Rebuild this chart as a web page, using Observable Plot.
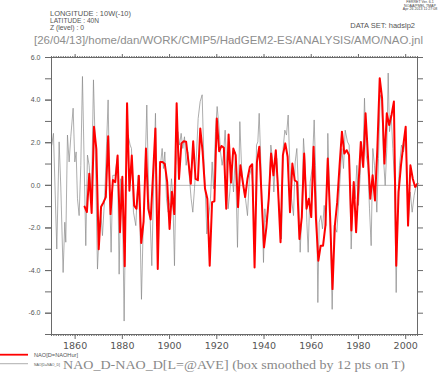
<!DOCTYPE html>
<html><head><meta charset="utf-8">
<script src="https://cdn.jsdelivr.net/npm/d3@7"></script>
<script src="https://cdn.jsdelivr.net/npm/@observablehq/plot@0.6"></script>
<style>
html,body{margin:0;padding:0;background:#fff;}
#chart{position:relative;width:440px;height:372px;overflow:hidden;}
svg{display:block}
</style></head><body><div id="chart"></div>
<script>
// ---------- data ----------
const xDomain = [1850, 2005];
const yDomain = [-7, 6];
const xTickYears = [1860, 1880, 1900, 1920, 1940, 1960, 1980, 2000];
const yTickValues = [-6, -4, -2, 0, 2, 4, 6];

// Annual NAO (Hurrell), one value per year starting 1864
const redStartYear = 1864;
const redValues = [
  -1.0, -1.25, 0.55, -1.3, 2.75, 1.7, -3.0, -1.0, -0.8, -0.55,
  2.3, -1.35, 0.25, 0.15, 1.4, -2.2, 0.4, -3.8, 3.85, -0.25,
  1.4, -0.95, -1.1, 0.45, -2.7, -1.7, 1.73, -1.1, -1.6, 0.5,
  2.67, -3.93, 1.1, 1.1, 1.0, 0.15, -2.05, -0.3, -1.35, 3.85,
  0.3, 1.97, 2.07, 2.05, 1.1, 0.08, 2.07, 0.3, 0.24, 2.67,
  1.57, -0.15, -0.63, -3.77, -0.79, -0.75, 3.14, 1.6, 1.85, 1.76,
  -1.1, 2.39, 0.13, 1.73, 1.42, -1.02, 0.94, 0.16, -0.55, 0.31,
  0.86, 0.99, -3.85, 1.1, 1.81, -0.63, -2.91, -1.97, -0.63, 1.49,
  0.47, 1.65, -0.31, -2.67, 1.42, 1.97, 1.34, -1.26, 1.02, 0.24,
  0.16, -2.52, -1.49, 1.49, -1.1, -0.63, -1.49, 1.81, -1.57, -3.54,
  -2.83, -2.83, -1.89, 1.26, -1.5, -4.87, -1.89, -0.79, 0.94, 2.52,
  1.49, 1.65, 1.42, -2.12, 0.16, -2.2, 0.0, 2.04, 0.86, 3.38,
  1.42, -0.63, 0.47, -0.71, 1.73, 5.03, 4.09, 1.02, 3.38, 2.83,
  3.3, 3.93, -3.77, -0.31, 0.94, 1.89, 2.75, -1.89, 0.94, 0.31,
  -0.08, 0.08
];

// HadSLP2 NAO anomaly, box smoothed by 12 months (read at turning points)
const grayYears = [
  1850.12, 1850.83, 1852.24, 1853.23, 1853.94, 1854.92, 1855.63, 1856.05, 1856.76, 1857.47,
  1858.17, 1859.16, 1859.87, 1860.43, 1861.0, 1861.7, 1862.41, 1863.11, 1863.82, 1864.52,
  1865.23, 1865.94, 1866.92, 1867.77, 1868.48, 1869.47, 1870.17, 1870.88, 1871.58, 1872.57,
  1873.98, 1874.69, 1875.25, 1875.96, 1876.95, 1877.94, 1878.64, 1879.35, 1880.05, 1880.76,
  1881.61, 1882.45, 1883.3, 1883.87, 1884.71, 1885.7, 1886.69, 1887.54, 1888.1, 1888.95,
  1889.23, 1890.36, 1891.21, 1891.78, 1892.48, 1893.19, 1894.03, 1894.74, 1895.3, 1896.01,
  1896.86, 1897.42, 1897.99, 1898.69, 1899.4, 1900.1, 1900.81, 1901.38, 1902.08, 1902.79,
  1903.49, 1904.2, 1904.91, 1905.61, 1906.32, 1907.02, 1907.73, 1908.44, 1909.14, 1909.85,
  1910.55, 1911.26, 1912.11, 1912.95, 1913.8, 1914.51, 1915.21, 1915.78, 1916.48, 1917.33,
  1918.04, 1918.6, 1919.45, 1920.15, 1920.86, 1921.57, 1922.27, 1922.84, 1923.54, 1924.25,
  1924.81, 1925.52, 1926.23, 1927.07, 1927.92, 1928.06, 1928.77, 1929.76, 1930.46, 1931.31,
  1932.16, 1933.0, 1933.85, 1934.7, 1935.4, 1936.11, 1936.82, 1937.38, 1937.95, 1938.51,
  1939.22, 1939.78, 1940.35, 1940.91, 1941.62, 1942.32, 1942.89, 1943.59, 1944.16, 1944.72,
  1945.43, 1946.13, 1946.84, 1947.4, 1948.11, 1948.82, 1949.52, 1950.23, 1950.94, 1951.64,
  1952.49, 1953.2, 1953.9, 1954.61, 1955.31, 1956.02, 1956.72, 1957.43, 1958.14, 1958.7,
  1959.55, 1960.4, 1961.24, 1961.81, 1962.37, 1962.8, 1963.36, 1964.07, 1964.77, 1965.48,
  1966.18, 1966.89, 1967.02, 1967.87, 1968.86, 1969.71, 1970.84, 1971.96, 1972.95, 1973.66,
  1974.37, 1975.35, 1976.06, 1976.91, 1977.89, 1978.6, 1979.31, 1980.01, 1980.72, 1981.28,
  1981.85, 1982.55, 1983.26, 1983.97, 1984.67, 1985.38, 1986.08, 1986.79, 1987.78, 1988.48,
  1989.19, 1989.9, 1990.6, 1991.31, 1992.01, 1992.58, 1993.14, 1993.85, 1994.55, 1995.26,
  1995.97, 1996.67, 1997.38, 1998.22, 1999.07, 1999.92, 2000.48, 2001.05, 2001.9, 2002.74,
  2003.59, 2004.16, 2004.72
];
const grayValues = [
  1.89, 2.44, -2.99, 2.04, -0.08, -4.09, -1.73, -2.67, 2.36, 1.10,
  2.28, 3.62, 1.10, 1.57, -0.63, -1.42, 0.94, 5.11, 1.10, -2.83,
  1.42, 0.94, -0.79, 4.95, 2.04, -3.93, -2.2, -1.26, -2.36, -0.47,
  4.01, -0.63, -3.14, 0.47, 0.47, 1.42, -4.17, 0.31, -0.79, -6.37,
  0.63, 2.36, 1.89, 1.73, -1.26, -1.89, 0.47, -2.2, -5.35, -1.42,
  -0.94, 3.77, -0.63, -1.57, -3.77, -0.31, 3.38, -1.1, -2.67, 0.79,
  1.73, 0.79, 1.57, -0.63, -1.26, -0.79, 0.31, -0.47, -3.77, 0.94,
  2.52, 1.89, 2.44, 1.73, 2.28, 0.94, 1.57, 0.31, -0.63, -1.26,
  -0.16, 1.1, 3.14, 3.93, 4.25, 1.26, -0.47, -2.28, -1.57, -0.63,
  1.1, -0.16, 2.52, 3.7, 2.83, 1.57, 0.94, 1.42, 2.59, 0.79,
  -1.1, -0.31, 0.94, -0.31, 1.57, 0.47, -2.91, 2.99, 0.94, -0.16,
  -0.63, -1.42, 0.47, 0.79, -0.31, -3.14, 1.89, 2.04, 3.38, 1.57,
  -1.1, -3.62, -1.1, -1.73, -1.26, 0.16, 1.89, 1.26, -0.31, 0.94,
  1.26, -0.63, -1.26, -2.52, 1.73, 2.59, 2.36, 3.3, 0.94, -0.63,
  -1.42, 1.1, 1.73, -0.31, -3.14, -1.26, 2.2, 0.94, -1.73, -3.14,
  0.16, 0.79, 3.07, 0.94, -1.57, -5.5, -1.73, -1.42, -2.04, -0.94,
  -1.89, 1.26, 2.44, -0.94, -5.82, -1.89, -2.2, -0.16, 1.73, 0.79,
  2.59, 2.04, 1.89, -2.99, 0.16, -0.63, 0.94, -0.94, 0.47, 2.04,
  0.94, 4.09, 1.42, 0.94, -1.1, -2.83, 1.73, 0.94, -1.26, 1.26,
  4.25, 3.93, 1.26, 0.0, 1.73, 5.27, 2.52, 3.3, 1.73, 0.16,
  -5.03, -0.63, 0.94, 1.89, 1.57, 2.2, 0.94, -1.73, -0.31, -1.26,
  -0.47, -0.16, 0.0
];

const ferretStamp = ["FERRET Ver. 6.1", "NOAA/PMEL TMAP", "Apr 26 2013 11:27:08"];
const headerLeft = ["LONGITUDE : 10W(-10)", "LATITUDE : 40N", "Z (level) : 0"];
const headerRight = "DATA SET: hadslp2";
const journalPath = "[26/04/13]/home/dan/WORK/CMIP5/HadGEM2-ES/ANALYSIS/AMO/NAO.jnl";
const legendLabels = ["NAO[D=NAOHur]", "NAO[D=NAO_D]"];
const plotTitle = "NAO_D-NAO_D[L=@AVE] (box smoothed by 12 pts on T)";

// ---------- chart ----------
const red = redValues.map((v, i) => ({year: redStartYear + i, value: v}));
const gray = grayYears.map((y, i) => ({year: y, value: grayValues[i]}));
const allYears = d3.range(xDomain[0], xDomain[1] + 1);
const allInts = d3.range(yDomain[0], yDomain[1] + 1);
const axisColor = "#6a6a6a";
const zeroLine = [{y: 0, x1: redStartYear, x2: xDomain[1]}];

const plot = Plot.plot({
  width: 440, height: 372,
  marginLeft: 51, marginRight: 23, marginTop: 57, marginBottom: 38,
  x: {domain: xDomain, label: null},
  y: {domain: yDomain, label: null},
  style: {fontFamily: "'Liberation Sans', sans-serif", background: "white", color: "#555"},
  marks: [
    Plot.ruleY(zeroLine, {y: "y", x1: "x1", x2: "x2", stroke: "#8c8c8c", strokeWidth: 0.6}),
    Plot.line(gray, {x: "year", y: "value", stroke: "#8a8a8a", strokeWidth: 0.7}),
    Plot.line(red, {x: "year", y: "value", stroke: "#ff0000", strokeWidth: 2}),
    Plot.frame({stroke: axisColor, strokeWidth: 1}),
    Plot.axisY({ticks: allInts, tickSize: 6, tickFormat: () => "", stroke: axisColor, label: null}),
    Plot.axisY({ticks: yTickValues, tickSize: 6, tickPadding: 5, tickFormat: d => d.toFixed(1), fontSize: 7, fill: "#555", stroke: axisColor, label: null}),
    Plot.axisY({anchor: "right", ticks: allInts, tickSize: 5, tickFormat: () => "", stroke: axisColor, label: null}),
    Plot.axisX({anchor: "top", ticks: allYears, tickSize: 2, tickFormat: () => "", stroke: axisColor, label: null}),
    Plot.axisX({anchor: "top", ticks: xTickYears, tickSize: 4, tickFormat: () => "", stroke: axisColor, label: null}),
    Plot.axisX({anchor: "bottom", ticks: allYears, tickSize: 2, tickFormat: () => "", stroke: axisColor, label: null}),
    Plot.axisX({anchor: "bottom", ticks: xTickYears, tickSize: 5, tickPadding: 3, tickFormat: d => String(d), fontSize: 9.5, fill: "#555", stroke: axisColor, label: null, fontFamily: "'DejaVu Sans', sans-serif"})
  ]
});
document.getElementById("chart").appendChild(plot);

// ---------- annotations (real text) ----------
const svg = d3.select(plot);
const g = svg.append("g");
function txt(x, y, s, o = {}) {
  const t = g.append("text").attr("x", x).attr("y", y).text(s)
    .attr("font-family", o.family || "'Liberation Sans', sans-serif")
    .attr("font-size", o.size || 7)
    .attr("fill", o.fill || "#555")
    .attr("text-anchor", o.anchor || "start");
  if (o.len) t.attr("textLength", o.len).attr("lengthAdjust", "spacingAndGlyphs");
  return t;
}
ferretStamp.forEach((s, i) => txt(420, 3.4 + i * 3.1, s, {size: 3.6, anchor: "middle", fill: "#444"}));
txt(50, 15.7, headerLeft[0], {size: 7, len: 81});
txt(50, 23, headerLeft[1], {size: 7, len: 49});
txt(50, 30.3, headerLeft[2], {size: 7, len: 34});
txt(415, 28.3, headerRight, {size: 7.5, anchor: "end"});
txt(34, 44.3, journalPath, {size: 11.4, len: 389, fill: "#8e8e8e"});

g.append("line").attr("x1", 0).attr("x2", 28).attr("y1", 354.7).attr("y2", 354.7).attr("stroke", "#ff0000").attr("stroke-width", 1.8);
g.append("line").attr("x1", 0).attr("x2", 28).attr("y1", 363.7).attr("y2", 363.7).attr("stroke", "#8c8c8c").attr("stroke-width", 0.7);
txt(34, 356.5, legendLabels[0], {size: 4.6, len: 44});
txt(34, 365.5, legendLabels[1], {size: 4.2, len: 26});
txt(63, 369.3, plotTitle, {size: 12, len: 342, fill: "#888", family: "'Liberation Serif', serif"});
</script>
</body></html>
